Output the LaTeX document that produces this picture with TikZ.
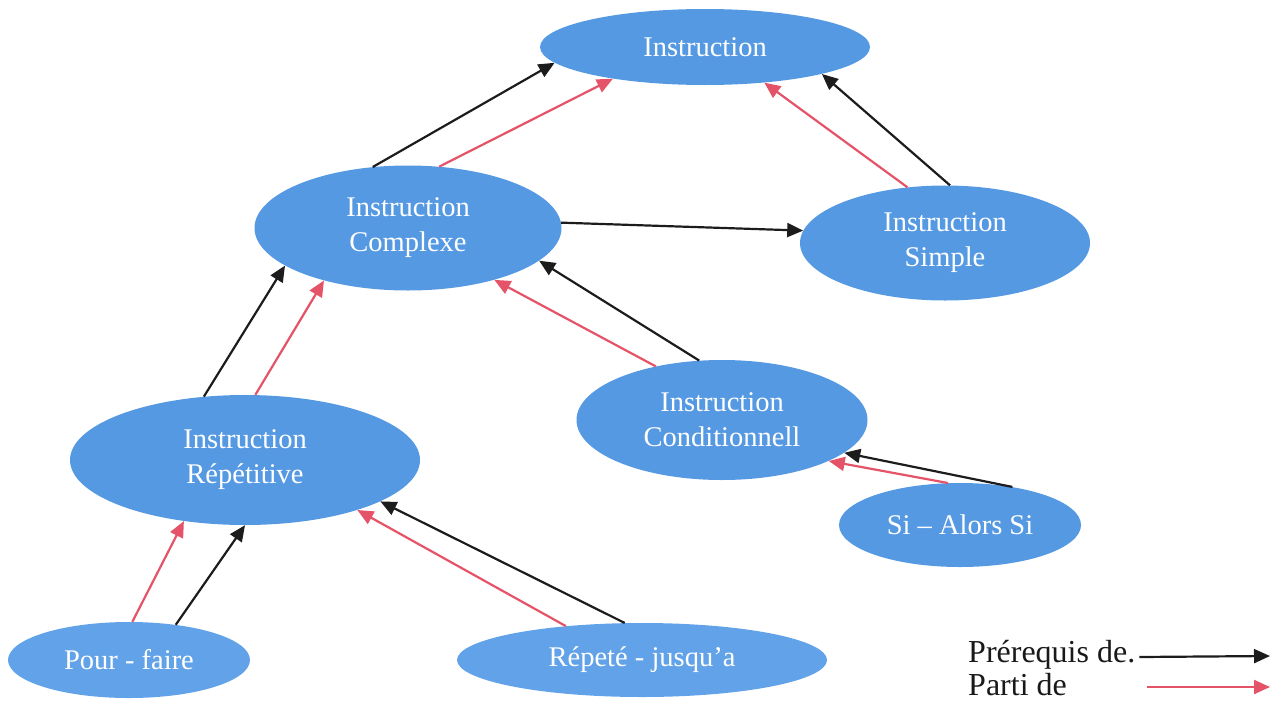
\documentclass[tikz,border=0pt]{standalone}
\usepackage{fontspec}
\setmainfont{Liberation Serif}
\usetikzlibrary{shapes.geometric,arrows.meta}
\definecolor{bubble}{RGB}{86,153,227}
\definecolor{bubblesoft}{RGB}{98,162,232}
\definecolor{partred}{RGB}{229,83,104}
\definecolor{prereq}{RGB}{28,28,28}

\begin{document}
\begin{tikzpicture}[x=1pt,y=-1pt,
  bubble/.style={ellipse, fill=bubble, draw=none, inner sep=0pt, text=white,
    align=center, font=\fontsize{28.5}{35}\selectfont},
  pre/.style={draw=prereq, line width=2.2pt, -{Triangle[length=16pt,width=14pt]}},
  part/.style={draw=partred, line width=2.2pt, -{Triangle[length=16pt,width=14pt]}},
  legend/.style={inner sep=0pt, text=black!90, font=\fontsize{32}{36}\selectfont},
]
\useasboundingbox (0,0) rectangle (1274,723);

% concept bubbles
\node[bubble, minimum width=330pt, minimum height=76pt] (instr) at (705,47) {Instruction};
\node[bubble, minimum width=307pt, minimum height=125pt] (cplx) at (408,228) {Instruction\\Complexe};
\node[bubble, minimum width=290pt, minimum height=115pt] (simp) at (945,243) {Instruction\\Simple};
\node[bubble, minimum width=291pt, minimum height=120pt] (cond) at (722,420) {Instruction\\Conditionnell};
\node[bubble, minimum width=350pt, minimum height=130pt] (rept) at (245,460) {Instruction\\Répétitive};
\node[bubble, minimum width=242pt, minimum height=84pt] (sialors) at (960,525) {Si – Alors Si};
\node[bubble, fill=bubblesoft, minimum width=242pt, minimum height=76pt] (pour) at (129,660) {Pour - faire};
\node[bubble, fill=bubblesoft, minimum width=370pt, minimum height=74pt] (jusqu) at (642,660) {Répeté - jusqu'a};

% prerequisite links (black) and part-of links (red)
\draw[pre]  (cplx.120.5) -- (instr.186.3);
\draw[part] (cplx.63.8)  -- (instr.199.5);
\draw[part] (simp.124.7) -- (instr.329.7);
\draw[pre]  (simp.85.4)  -- (instr.347.3);
\draw[pre]  (cplx.2.2)   -- (simp.175.7);
\draw[pre]  (cond.111.2) -- (cplx.346.9);
\draw[part] (cond.141.3) -- (cplx.329.5);
\draw[pre]  (rept.123.7) -- (cplx.197.4);
\draw[part] (rept.81)    -- (cplx.212);
\draw[pre]  (sialors.36.4)  -- (cond.345.1);
\draw[part] (sialors.106)   -- (cond.339.3);
\draw[part] (pour.85.5)  -- (rept.225);
\draw[pre]  (pour.37.8)  -- (rept.270);
\draw[part] (jusqu.156.1) -- (rept.336.3);
\draw[pre]  (jusqu.115.9) -- (rept.343);

% legend
\node[legend, anchor=west] (lpre) at (968,655) {Prérequis de.};
\node[legend, anchor=west] (lpart) at (968,685) {Parti de};
\coordinate (lpreB) at (1270,656);
\coordinate (lpartA) at (1147,687);
\coordinate (lpartB) at (1270,687);
\draw[pre]  ([xshift=4pt,yshift=-2pt]lpre.east) -- (lpreB);
\draw[part] (lpartA) -- (lpartB);
\end{tikzpicture}
\end{document}
